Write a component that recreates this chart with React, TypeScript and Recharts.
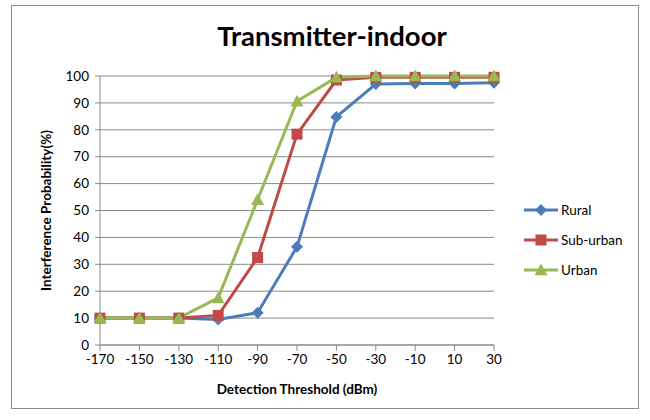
import React from "react"
import { LineChart, Line, XAxis, YAxis, CartesianGrid } from "recharts"

const thresholds = [-170, -150, -130, -110, -90, -70, -50, -30, -10, 10, 30]
const rural = [10, 10, 10, 9.5, 12, 36.5, 84.8, 97, 97.2, 97.2, 97.5]
const subUrban = [10, 10, 10, 11, 32.5, 78.4, 98.5, 99.5, 99.5, 99.5, 99.5]
const urban = [10, 10, 10, 17.5, 54, 90.6, 99.5, 100, 100, 100, 100]
const yTicks = [0, 10, 20, 30, 40, 50, 60, 70, 80, 90, 100]

const FONT = "Lato, 'Open Sans', sans-serif"
const BLUE = "#4A7EBB"
const RED = "#BE4B48"
const GREEN = "#98B954"

const data = thresholds.map((x, i) => ({
  x,
  rural: rural[i],
  subUrban: subUrban[i],
  urban: urban[i],
}))

function Marker({ cx, cy, shape, color }: any) {
  if (cx == null || cy == null) return null
  if (shape === "diamond") {
    const r = 6
    return <path d={`M${cx},${cy - r}L${cx + r},${cy}L${cx},${cy + r}L${cx - r},${cy}Z`} fill={color} />
  }
  if (shape === "square") {
    const r = 5.5
    return <rect x={cx - r} y={cy - r} width={r * 2} height={r * 2} fill={color} />
  }
  const r = 6.5
  return <path d={`M${cx},${cy - r}L${cx + r},${cy + r * 0.8}L${cx - r},${cy + r * 0.8}Z`} fill={color} />
}

const series = [
  { key: "rural", name: "Rural", color: BLUE, shape: "diamond" },
  { key: "subUrban", name: "Sub-urban", color: RED, shape: "square" },
  { key: "urban", name: "Urban", color: GREEN, shape: "triangle" },
]

function LegendBox() {
  return (
    <div style={{ position: "absolute", left: 524, top: 195, fontFamily: FONT, fontSize: 13.5 }}>
      {series.map((s) => (
        <div key={s.key} style={{ display: "flex", alignItems: "center", height: 30 }}>
          <svg width={36} height={16}>
            <line x1={0} y1={8} x2={34} y2={8} stroke={s.color} strokeWidth={3} />
            <Marker cx={17} cy={8} shape={s.shape} color={s.color} />
          </svg>
          <span style={{ marginLeft: 1, color: "#000" }}>{s.name}</span>
        </div>
      ))}
    </div>
  )
}

export default function App() {
  return (
    <div style={{ position: "absolute", left: 0, top: 0, width: 650, height: 420, background: "#fff" }}>
      <div
        style={{
          position: "absolute",
          left: 11,
          top: 5,
          width: 628,
          height: 404,
          border: "1px solid #8c8c8c",
          boxSizing: "border-box",
        }}
      />
      <div
        style={{
          position: "absolute",
          left: 0,
          width: 664,
          top: 19,
          textAlign: "center",
          fontFamily: FONT,
          fontWeight: 700,
          fontSize: 27.5,
          color: "#000",
        }}
      >
        Transmitter-indoor
      </div>
      <div style={{ position: "absolute", left: 0, top: 0 }}>
        <LineChart width={650} height={420} data={data} margin={{ top: 76, right: 156, bottom: 45, left: 40 }}>
          <CartesianGrid vertical={false} stroke="#8a8a8a" strokeWidth={1} />
          <XAxis
            dataKey="x"
            type="number"
            domain={[-170, 30]}
            ticks={thresholds}
            interval={0}
            stroke="#8a8a8a"
            tickLine={{ stroke: "#8a8a8a" }}
            tickSize={6}
            tickMargin={3}
            tick={{ fill: "#000", fontSize: 13.5, fontFamily: FONT }}
            label={{
              value: "Detection Threshold (dBm)",
              position: "insideBottom",
              offset: -19,
              style: { fontFamily: FONT, fontWeight: 700, fontSize: 13.5, fill: "#000" },
            }}
            height={30}
          />
          <YAxis
            domain={[0, 100]}
            ticks={yTicks}
            interval={0}
            width={60}
            stroke="#8a8a8a"
            tickSize={5}
            tickMargin={6}
            tick={{ fill: "#000", fontSize: 13.5, fontFamily: FONT }}
            label={{
              value: "Interference Probability(%)",
              angle: -90,
              position: "insideLeft",
              offset: 0,
              dx: 6,
              style: { fontFamily: FONT, fontWeight: 700, fontSize: 13.5, fill: "#000", textAnchor: "middle" },
            }}
          />
          {series.map((s) => (
            <Line
              key={s.key}
              dataKey={s.key}
              name={s.name}
              stroke={s.color}
              strokeWidth={3}
              type="linear"
              isAnimationActive={false}
              dot={(p: any) => <Marker key={`${s.key}-${p.index}`} cx={p.cx} cy={p.cy} shape={s.shape} color={s.color} />}
              activeDot={false}
            />
          ))}
        </LineChart>
      </div>
      <LegendBox />
    </div>
  )
}
